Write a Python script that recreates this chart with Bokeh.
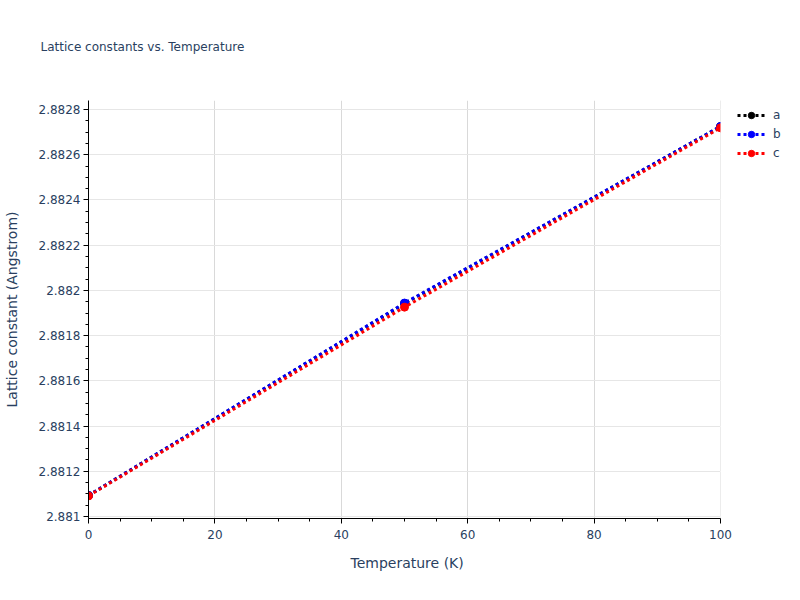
from bokeh.plotting import figure
from bokeh.models import (Range1d, FixedTicker, Legend, LegendItem, LinearAxis, Title,
                          BoxAnnotation)
from bokeh.embed import file_html
from bokeh.resources import INLINE

# ---- data ----
temperature = [0, 50, 100]
lat_a = [2.881093, 2.881942, 2.882725]
lat_b = [2.881093, 2.881944, 2.882725]
lat_c = [2.881091, 2.881926, 2.882719]
series_names = ["a", "b", "c"]
series_colors = ["black", "blue", "red"]

x_ticks = [0, 20, 40, 60, 80, 100]
x_minor_ticks = [0, 5, 10, 15, 20, 25, 30, 35, 40, 45, 50, 55, 60, 65, 70, 75, 80, 85, 90, 95, 100]
y_ticks = [2.881, 2.8812, 2.8814, 2.8816, 2.8818, 2.882, 2.8822, 2.8824, 2.8826, 2.8828]
y_tick_labels = ["2.881", "2.8812", "2.8814", "2.8816", "2.8818", "2.882",
                 "2.8822", "2.8824", "2.8826", "2.8828"]
title_text = "Lattice constants vs. Temperature"
x_title = "Temperature (K)"
y_title = "Lattice constant (Angstrom)"
x_start, x_end_axis = 0, 100
y_start, y_end = 2.880991, 2.88284

FONT = "DejaVu Sans"
TXT = "#2a3f5f"

W, H = 800, 600
LEFT, AXIS_RIGHT, TOP, BOTTOM = 88, 720, 100, 82
# the frame reaches the right edge (so the legend is not clipped); the axis stops at 100
x_end_view = x_start + (x_end_axis - x_start) * (W - LEFT) / (AXIS_RIGHT - LEFT)

p = figure(width=W, height=H, output_backend="svg", toolbar_location=None,
           x_range=Range1d(x_start, x_end_view), y_range=Range1d(y_start, y_end),
           min_border_left=LEFT, min_border_right=0, min_border_top=TOP,
           min_border_bottom=BOTTOM)
p.title.visible = False
p.outline_line_color = None
p.background_fill_color = "white"
xax = p.below[0]
yax = p.left[0]


def spacer(size):
    # an invisible axis used only to reserve space in a side panel
    return LinearAxis(ticker=FixedTicker(ticks=[x_start]), axis_line_color=None,
                      major_tick_line_color=None, minor_tick_line_color=None,
                      major_tick_out=size, major_tick_in=0, minor_tick_out=0,
                      minor_tick_in=0, major_label_standoff=0,
                      major_label_text_font_size="0px", major_label_text_alpha=0)


# title, above the plot
p.add_layout(spacer(47), "above")
p.add_layout(Title(text=title_text, align="left", offset=-48, standoff=0,
                   text_font=FONT, text_font_size="12px",
                   text_font_style="normal", text_color=TXT), "above")

# axes
xax.ticker = FixedTicker(ticks=x_ticks, minor_ticks=x_minor_ticks)
xax.bounds = (x_start, x_end_axis)
yax.ticker = FixedTicker(ticks=y_ticks,
                         minor_ticks=[round(2.88095 + 0.00005 * i, 6) for i in range(0, 40)])
yax.major_label_overrides = {t: l for t, l in zip(y_ticks, y_tick_labels)}

for ax in (xax, yax):
    ax.axis_line_color = "black"
    ax.axis_line_width = 1
    ax.major_tick_line_color = "black"
    ax.minor_tick_line_color = "black"
    ax.major_tick_out = 5
    ax.major_tick_in = 0
    ax.minor_tick_out = 3
    ax.minor_tick_in = 0
    ax.major_label_text_font = FONT
    ax.major_label_text_font_size = "12px"
    ax.major_label_text_color = TXT
    ax.axis_label_text_font = FONT
    ax.axis_label_text_font_size = "14px"
    ax.axis_label_text_font_style = "normal"
    ax.axis_label_text_color = TXT

yax.axis_label = y_title
xax.major_label_standoff = 6
yax.major_label_standoff = 3
yax.axis_label_standoff = 16

# x axis title, centred under the 0..100 axis (not under the wider frame)
p.add_layout(spacer(11), "below")
p.add_layout(Title(text=x_title, align="left", offset=262, standoff=0,
                   text_font=FONT, text_font_size="14px",
                   text_font_style="normal", text_color=TXT), "below")

p.xgrid.grid_line_color = "#d9d9d9"
p.ygrid.grid_line_color = "#e6e6e6"
p.xgrid.ticker = FixedTicker(ticks=x_ticks)
p.ygrid.ticker = FixedTicker(ticks=y_ticks)

items = []
for name, col, vals in zip(series_names, series_colors, [lat_a, lat_b, lat_c]):
    r1 = p.line(temperature, vals, line_color=col, line_width=3, line_dash="3 3")
    r2 = p.scatter(temperature, vals, size=8, fill_color=col, line_color=col)
    items.append(LegendItem(label=name, renderers=[r1, r2]))

# blank out the area right of the x axis end (plot area ends at x = 100)
p.add_layout(BoxAnnotation(left=x_end_axis, fill_color="white", fill_alpha=1.0,
                           line_color=None))

legend = Legend(items=items, location=(649, 357), orientation="vertical",
                border_line_color=None, background_fill_alpha=0,
                padding=0, margin=0, spacing=3,
                glyph_width=28, glyph_height=16, label_standoff=8,
                label_text_font=FONT, label_text_font_size="12px",
                label_text_color=TXT)
p.add_layout(legend, "center")

open("out.html", "w").write(file_html(p, INLINE))
